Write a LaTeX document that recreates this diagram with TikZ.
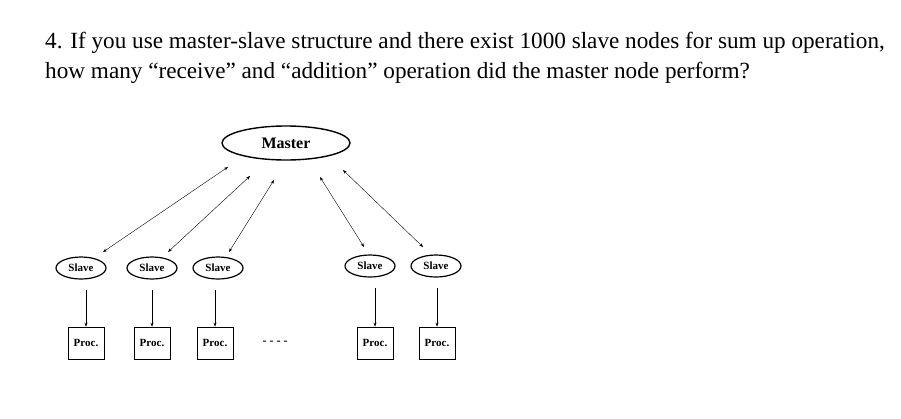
\documentclass[tikz,border=0pt]{standalone}
\usepackage{fontspec}
\setmainfont{Liberation Serif}
\usetikzlibrary{shapes.geometric,arrows.meta}
\begin{document}
\begin{tikzpicture}[x=1pt,y=-1pt,
  slave/.style={ellipse,draw,line width=1.2pt,minimum width=50pt,minimum height=22pt,inner sep=0pt,font=\fontsize{11}{12}\selectfont\bfseries},
  master/.style={ellipse,draw,line width=1.4pt,minimum width=128pt,minimum height=34pt,inner sep=0pt,font=\fontsize{16}{18}\selectfont\bfseries},
  proc/.style={rectangle,draw,line width=0.6pt,minimum width=36pt,minimum height=32pt,inner sep=0pt,font=\fontsize{11}{12}\selectfont\bfseries},
  link/.style={draw,line width=0.4pt,{Stealth[length=4pt,width=3pt]}-{Stealth[length=4pt,width=3pt]}},
  down/.style={draw,line width=0.6pt,-{Stealth[length=4pt,width=3pt]}},
  q/.style={anchor=base west,inner sep=0pt,font=\fontsize{23.2}{26}\selectfont}]
\useasboundingbox (0,0) rectangle (901,418);
\node[q] (l1) at (45,48) {4. If you use master-slave structure and there exist 1000 slave nodes for sum up operation,};
\node[q] (l2) at (45,78) {how many “receive” and “addition” operation did the master node perform?};
\node[master] (m) at (286,143) {Master};
\foreach \n/\x/\y in {s1/81/268,s2/152/268,s3/218/268,s4/370/266,s5/436/266}
  \node[slave] (\n) at (\x,\y) {Slave};
\foreach \n/\x in {p1/86,p2/152,p3/215,p4/375,p5/437}
  \node[proc] (\n) at (\x,343) {Proc.};
\node[font=\fontsize{12}{12}\selectfont\bfseries] (dots) at (275,343) {- - - -};
\coordinate (a1) at (228,167); \coordinate (a2) at (250,176); \coordinate (a3) at (274,180);
\coordinate (a4) at (320,177); \coordinate (a5) at (343,170);
\coordinate (b1) at (103,252); \coordinate (b2) at (168,252); \coordinate (b3) at (229,252);
\coordinate (b4) at (364,247); \coordinate (b5) at (423,247);
\foreach \i in {1,...,5} \draw[link] (a\i) -- (b\i);
\foreach \i in {1,...,5} \draw[down] ([yshift=-10pt]p\i.north |- s\i.south) -- (p\i.north);
\end{tikzpicture}
\end{document}
